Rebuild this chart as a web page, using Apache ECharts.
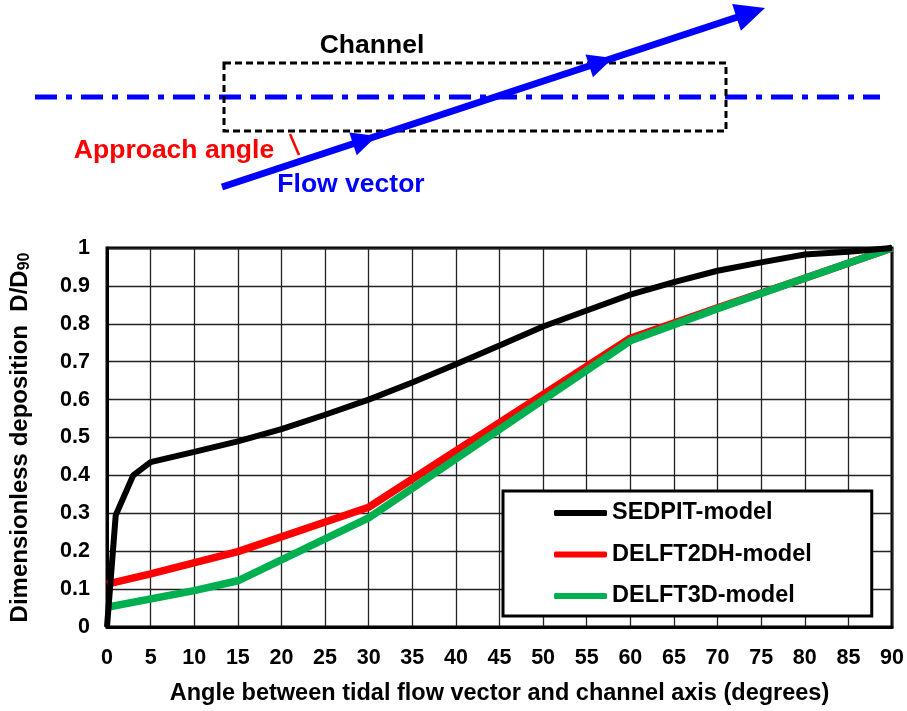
<!DOCTYPE html>
<html><head><meta charset="utf-8">
<script src="https://cdn.jsdelivr.net/npm/echarts@6/dist/echarts.min.js"></script>
<style>html,body{margin:0;padding:0;background:#fff}#c{width:907px;height:711px}</style>
</head><body><div id="c"></div>
<script>
var xTicks = [0,5,10,15,20,25,30,35,40,45,50,55,60,65,70,75,80,85,90];
var sedpitX = [0,1,3,5,10,15,20,25,30,35,40,45,50,55,60,65,70,75,80,85,90];
var sedpitY = [0,0.295,0.40,0.435,0.462,0.49,0.522,0.56,0.60,0.645,0.693,0.743,0.793,0.835,0.877,0.91,0.94,0.962,0.983,0.99,1.0];
var delft2dhX = [0,5,15,30,60,70,80,90];
var delft2dhY = [0.113,0.14,0.199,0.316,0.762,0.842,0.92,1.0];
var delft3dX = [0,10,15,30,60,70,80,90];
var delft3dY = [0.052,0.096,0.122,0.288,0.755,0.84,0.92,1.0];
var seriesNames = ['SEDPIT-model','DELFT2DH-model','DELFT3D-model'];

function pairs(xs, ys){ return xs.map(function(x,i){return [x, ys[i]];}); }

var chart = echarts.init(document.getElementById('c'), null, {renderer:'canvas'});
var F = 'Liberation Sans, Arial, sans-serif';

// arrow heads along the flow vector
var ax0 = 222, ay0 = 187, ax1 = 765, ay1 = 8;
var dx = ax1-ax0, dy = ay1-ay0, L = Math.sqrt(dx*dx+dy*dy), ux = dx/L, uy = dy/L, nx = -uy, ny = ux;
function head(tx, ty, len, hw){
  return [[tx,ty],[tx-ux*len+nx*hw, ty-uy*len+ny*hw],[tx-ux*len-nx*hw, ty-uy*len-ny*hw]];
}
function onLine(t){ return [ax0+dx*t, ay0+dy*t]; }
var h1 = onLine(0.285), h2 = onLine(0.72);

var option = {
  backgroundColor:'#fff',
  animation:false,
  grid:{left:107, top:248, right:15, bottom:81, show:true, borderColor:'#000', borderWidth:3},
  legend:{
    data:seriesNames,
    orient:'vertical', left:503, top:491,
    padding:[10,60,8,51], itemGap:17.5,
    itemWidth:53, itemHeight:6, icon:'roundRect',
    backgroundColor:'#fff', borderColor:'#000', borderWidth:3,
    textStyle:{fontFamily:F, fontWeight:'bold', fontSize:23.5, color:'#000'}
  },
  xAxis:{
    type:'value', min:0, max:90, interval:5,
    name:'Angle between tidal flow vector and channel axis (degrees)',
    nameLocation:'middle', nameGap:55,
    nameTextStyle:{fontFamily:F, fontWeight:'bold', fontSize:23.5, color:'#000'},
    axisLine:{show:true, lineStyle:{color:'#000', width:3}},
    axisTick:{show:false},
    axisLabel:{margin:20, fontFamily:F, fontWeight:'bold', fontSize:21.5, color:'#000',
      formatter:function(v){return xTicks.indexOf(v)>=0 ? String(v) : '';}},
    splitLine:{show:true, lineStyle:{color:'#222', width:1.3}}
  },
  yAxis:{
    type:'value', min:0, max:1, interval:0.1,
    name:'{a|Dimensionless deposition  D/D}{s|90}',
    nameLocation:'middle', nameGap:74, nameRotate:90,
    nameTextStyle:{rich:{
      a:{fontFamily:F, fontWeight:'bold', fontSize:24, color:'#000'},
      s:{fontFamily:F, fontWeight:'bold', fontSize:16, color:'#000', padding:[10,0,0,0]}
    }},
    axisLine:{show:true, lineStyle:{color:'#000', width:3}},
    axisTick:{show:false},
    axisLabel:{margin:17, fontFamily:F, fontWeight:'bold', fontSize:21.5, color:'#000',
      formatter:function(v){ return Math.round(v*10)/10 + ''; }},
    splitLine:{show:true, lineStyle:{color:'#222', width:1.3}}
  },
  series:[
    {name:seriesNames[0], type:'line', data:pairs(sedpitX, sedpitY), showSymbol:false, symbol:'none',
      lineStyle:{color:'#000', width:6}, itemStyle:{color:'#000'}, z:5},
    {name:seriesNames[1], type:'line', data:pairs(delft2dhX, delft2dhY), showSymbol:false, symbol:'none',
      lineStyle:{color:'#ff0000', width:7.5}, itemStyle:{color:'#ff0000'}, z:3},
    {name:seriesNames[2], type:'line', data:pairs(delft3dX, delft3dY), showSymbol:false, symbol:'none',
      lineStyle:{color:'#00b050', width:7.5}, itemStyle:{color:'#00b050'}, z:4}
  ],
  graphic:[
    {type:'line', shape:{x1:35,y1:97,x2:880,y2:97}, style:{stroke:'#0000ff', lineWidth:5, lineDash:[22,9,6,9]}},
    {type:'rect', shape:{x:224,y:63,width:502,height:68}, style:{fill:null, stroke:'#000', lineWidth:3, lineDash:[7,4]}},
    {type:'line', shape:{x1:ax0,y1:ay0,x2:ax1-ux*20,y2:ay1-uy*20}, style:{stroke:'#0000ff', lineWidth:7}},
    {type:'polygon', shape:{points:head(ax1,ay1,30,14)}, style:{fill:'#0000ff'}},
    {type:'polygon', shape:{points:head(h1[0],h1[1],25,12)}, style:{fill:'#0000ff'}},
    {type:'polygon', shape:{points:head(h2[0],h2[1],25,12)}, style:{fill:'#0000ff'}},
    {type:'line', shape:{x1:290,y1:134,x2:299,y2:155}, style:{stroke:'#ff0000', lineWidth:2.5}},
    {type:'text', x:372, y:46, style:{text:'Channel', fill:'#000', font:'bold 26.5px '+F, align:'center', verticalAlign:'middle'}},
    {type:'text', x:174, y:151, style:{text:'Approach angle', fill:'#ff0000', font:'bold 26.5px '+F, align:'center', verticalAlign:'middle'}},
    {type:'text', x:351, y:185, style:{text:'Flow vector', fill:'#0000ff', font:'bold 26.5px '+F, align:'center', verticalAlign:'middle'}}
  ]
};
chart.setOption(option);
</script>
</body></html>
